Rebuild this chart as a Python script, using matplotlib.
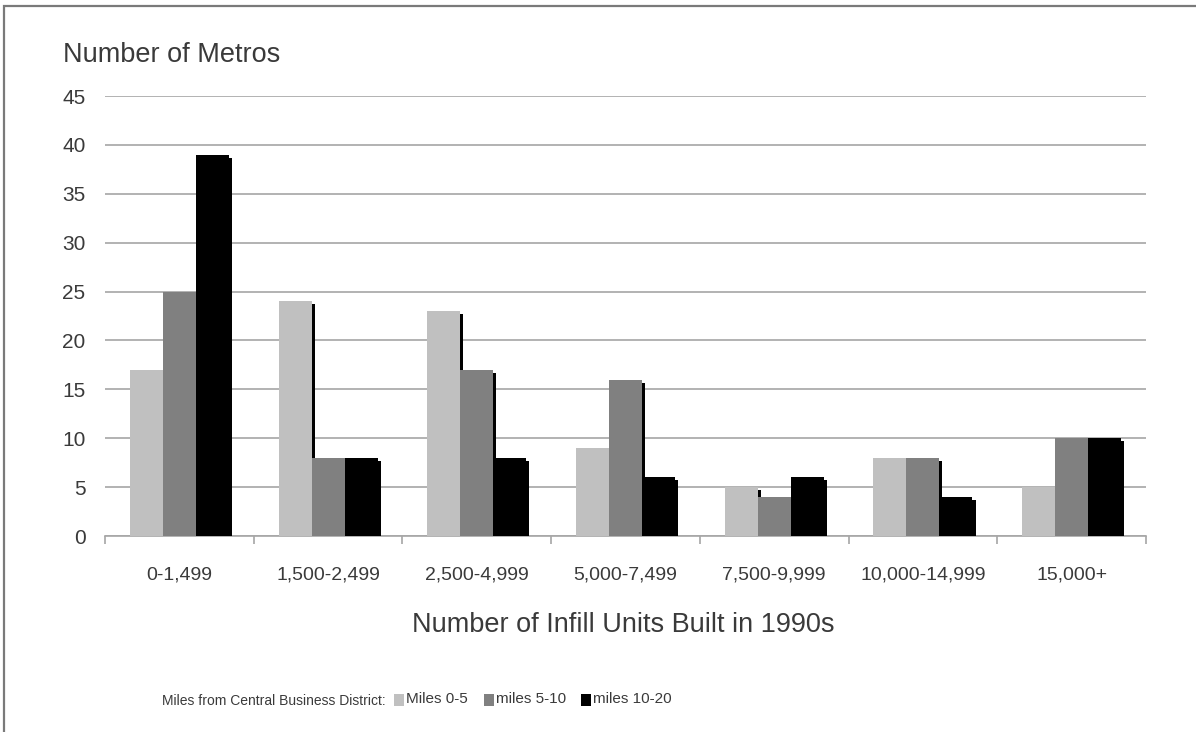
import matplotlib
matplotlib.use("Agg")
import matplotlib.pyplot as plt
import matplotlib.patheffects as pe
from matplotlib import font_manager
from matplotlib.patches import Rectangle
import numpy as np

categories = ["0-1,499", "1,500-2,499", "2,500-4,999", "5,000-7,499",
              "7,500-9,999", "10,000-14,999", "15,000+"]
series_names = ["Miles 0-5", "miles 5-10", "miles 10-20"]
miles_0_5 = [17, 24, 23, 9, 5, 8, 5]
miles_5_10 = [25, 8, 17, 16, 4, 8, 10]
miles_10_20 = [39, 8, 8, 6, 6, 4, 10]
y_ticks = [0, 5, 10, 15, 20, 25, 30, 35, 40, 45]
colors = ["#C0C0C0", "#808080", "#000000"]

available = {f.name for f in font_manager.fontManager.ttflist}
family = "Liberation Sans Narrow" if "Liberation Sans Narrow" in available else "Liberation Sans"
narrow = family == "Liberation Sans Narrow"
k = 1.15 if narrow else 1.0
plt.rcParams["font.family"] = [family, "DejaVu Sans"]
txt = "#3a3a3a"

W, H = 1196, 732
fig = plt.figure(figsize=(W / 100, H / 100), dpi=100)
ax = fig.add_axes([105 / W, 1 - 536 / H, (1146 - 105) / W, (536 - 96) / H])

x = np.arange(len(categories))
width = 0.222
offsets = [-width, 0, width]
shadow = [pe.SimplePatchShadow(offset=(2.2, -2.2), shadow_rgbFace="black", alpha=1.0), pe.Normal()]
for vals, off, col in zip([miles_0_5, miles_5_10, miles_10_20], offsets, colors):
    bars = ax.bar(x + off, vals, width=width, color=col, edgecolor="none", zorder=3)
    for b in bars:
        b.set_path_effects(shadow)

ax.set_xlim(-0.5, len(categories) - 0.5)
ax.set_ylim(0, 45)
ax.set_yticks(y_ticks)
ax.set_yticklabels([str(v) for v in y_ticks])
ax.tick_params(axis="y", length=0, pad=14, labelsize=15 * k, labelcolor=txt)
ax.yaxis.grid(True, color="#A6A6A6", linewidth=1.2, zorder=0)
ax.set_axisbelow(True)

ax.set_xticks(np.arange(len(categories) + 1) - 0.5)
ax.set_xticklabels([])
ax.set_xticks(x, minor=True)
ax.set_xticklabels(categories, minor=True)
ax.tick_params(axis="x", which="major", length=6, width=1.2, color="#A6A6A6", direction="out")
ax.tick_params(axis="x", which="minor", length=0, pad=22, labelsize=14 * k, labelcolor=txt)

for s in ["top", "right", "left"]:
    ax.spines[s].set_visible(False)
ax.spines["bottom"].set_color("#A6A6A6")
ax.spines["bottom"].set_linewidth(1.2)

fig.text(63 / W, 1 - 55 / H, "Number of Metros", fontsize=19.5 * k, color=txt, ha="left", va="center")
fig.text(623 / W, 1 - 625 / H, "Number of Infill Units Built in 1990s", fontsize=19.5 * k,
         color=txt, ha="center", va="center")

# legend row at the bottom
fig.text(162 / W, 1 - 701 / H, "Miles from Central Business District:", fontsize=10 * k,
         color=txt, ha="left", va="center")
legend_x = [394, 484, 581]
for lx, name, col in zip(legend_x, series_names, colors):
    fig.patches.append(Rectangle((lx / W, 1 - 706 / H), 10 / W, 12 / H, transform=fig.transFigure,
                                 facecolor=col, edgecolor="none"))
    fig.text((lx + 12) / W, 1 - 699 / H, name, fontsize=11 * k, color=txt, ha="left", va="center")

# outer frame
fig.patches.append(Rectangle((4 / W, -0.05), 1.2, 1 - 6 / H + 0.05, transform=fig.transFigure,
                             facecolor="none", edgecolor="#7a7a7a", linewidth=1.6))

fig.savefig("out.png", dpi=100, facecolor="white")
